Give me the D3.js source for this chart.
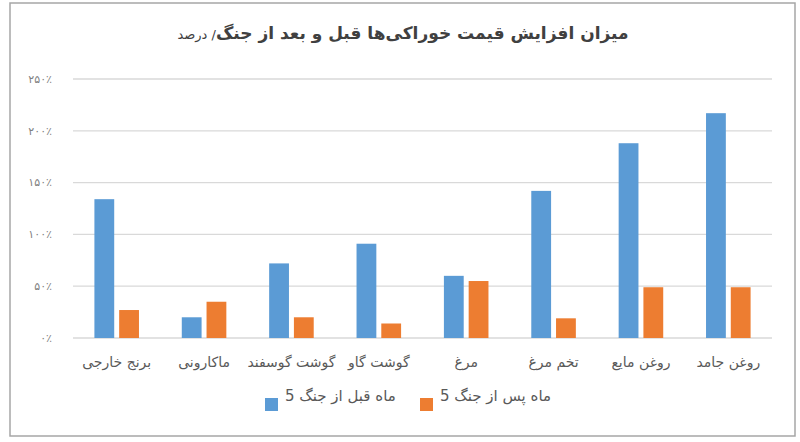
<!DOCTYPE html>
<html>
<head>
<meta charset="utf-8">
<script src="https://cdn.jsdelivr.net/npm/d3@7"></script>
<style>
    body { margin: 0; background: #fff; }
    svg { display: block; font-family: 'DejaVu Sans', sans-serif; }
</style>
</head>
<body>
<svg id="chart" width="800" height="442"></svg>
<script>
'use strict';

// categories, left to right as drawn
var categories = ['برنج خارجی', 'ماکارونی', 'گوشت گوسفند', 'گوشت گاو', 'مرغ', 'تخم مرغ', 'روغن مایع', 'روغن جامد'];

// percent increase, 5 months before the war
var beforeWar = [134, 20, 72, 91, 60, 142, 188, 217];
// percent increase, 5 months after the war
var afterWar = [27, 35, 20, 14, 55, 19, 49, 49];

var seriesNames = ['5 ماه قبل از جنگ', '5 ماه پس از جنگ'];
var yTicks = [0, 50, 100, 150, 200, 250];

var titleMain = 'میزان افزایش قیمت خوراکی‌ها قبل و بعد از جنگ';
var titleUnit = '/ درصد';

(function() {

    var colors = ['#5b9bd5', '#ed7d31'];

    var svg = d3.select('#chart');

    var plot = { left: 73, right: 772, top: 79, bottom: 338 };

    var faDigits = function(n) {
        return String(n).replace(/\d/g, function(d) { return '۰۱۲۳۴۵۶۷۸۹'[+d]; });
    };

    // outer frame
    svg.append('rect')
        .attr('x', 10).attr('y', 3)
        .attr('width', 785).attr('height', 433)
        .attr('fill', '#fff')
        .attr('stroke', '#a6a6a6')
        .attr('stroke-width', 1.5);

    var x = d3.scaleBand()
        .domain(categories)
        .range([plot.left, plot.right])
        .paddingInner(0.49)
        .paddingOuter(0.245);

    var xs = d3.scaleBand()
        .domain([0, 1])
        .range([0, x.bandwidth()])
        .paddingInner(0.2);

    var y = d3.scaleLinear()
        .domain([0, 250])
        .range([plot.bottom, plot.top]);

    // gridlines
    svg.append('g')
        .selectAll('line')
        .data(yTicks)
        .enter().append('line')
        .attr('x1', plot.left)
        .attr('x2', plot.right)
        .attr('y1', function(d) { return y(d); })
        .attr('y2', function(d) { return y(d); })
        .attr('stroke', '#d9d9d9')
        .attr('stroke-width', 1.3);

    // y labels
    svg.append('g')
        .selectAll('text')
        .data(yTicks)
        .enter().append('text')
        .attr('x', 52)
        .attr('y', function(d) { return y(d); })
        .attr('dy', '0.35em')
        .attr('text-anchor', 'end')
        .attr('fill', '#7f7f7f')
        .style('font-size', '11px')
        .text(function(d) { return faDigits(d) + '٪'; });

    var table = categories.map(function(c, i) {
        return { cat: c, values: [beforeWar[i], afterWar[i]] };
    });

    var group = svg.append('g')
        .selectAll('g')
        .data(table)
        .enter().append('g')
        .attr('transform', function(d) { return 'translate(' + x(d.cat) + ',0)'; });

    group.selectAll('rect')
        .data(function(d) { return d.values; })
        .enter().append('rect')
        .attr('x', function(d, i) { return xs(i); })
        .attr('width', xs.bandwidth())
        .attr('y', function(d) { return y(d); })
        .attr('height', function(d) { return y(0) - y(d); })
        .attr('fill', function(d, i) { return colors[i]; });

    // category labels
    svg.append('g')
        .selectAll('text')
        .data(categories)
        .enter().append('text')
        .attr('x', function(d) { return x(d) + x.bandwidth() / 2; })
        .attr('y', 362)
        .attr('dy', '0.35em')
        .attr('text-anchor', 'middle')
        .attr('fill', '#595959')
        .style('font-size', '14px')
        .text(function(d) { return d; });

    // title
    var title = svg.append('text')
        .attr('x', 403)
        .attr('y', 33)
        .attr('dy', '0.35em')
        .attr('text-anchor', 'middle')
        .attr('direction', 'rtl')
        .attr('fill', '#404040');

    title.append('tspan')
        .style('font-size', '17px')
        .style('font-weight', 'bold')
        .text(titleMain);

    title.append('tspan')
        .style('font-size', '13px')
        .text(titleUnit);

    // legend
    var legendX = [265, 420];
    var legend = svg.append('g')
        .selectAll('g')
        .data(seriesNames)
        .enter().append('g')
        .attr('transform', function(d, i) { return 'translate(' + legendX[i] + ',398)'; });

    legend.append('rect')
        .attr('width', 13)
        .attr('height', 13)
        .attr('fill', function(d, i) { return colors[i]; });

    legend.append('text')
        .attr('x', 20)
        .attr('y', -2)
        .attr('dy', '0.35em')
        .attr('fill', '#595959')
        .style('font-size', '15px')
        .text(function(d) { return d; });

})();
</script>
</body>
</html>
